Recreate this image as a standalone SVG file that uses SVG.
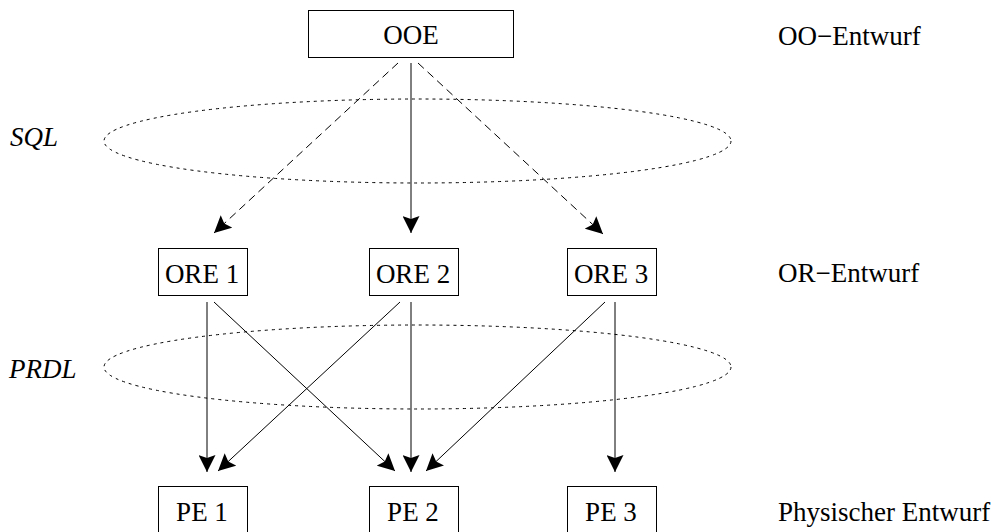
<svg xmlns="http://www.w3.org/2000/svg" width="996" height="532" viewBox="0 0 996 532">
  <style>
    .box { fill: #ffffff; stroke: #000000; stroke-width: 1; }
    .lbl { font-family: "Liberation Serif", "Times New Roman", serif; font-size: 27px; fill: #000000; }
    .mid { text-anchor: middle; }
    .lang { font-style: italic; }
    .edge { fill: none; stroke: #000000; stroke-width: 1; }
    .dash { stroke-dasharray: 8 5; }
    .zone { fill: none; stroke: #000000; stroke-width: 1; stroke-dasharray: 3 4; }
  </style>
  <defs>
    <marker id="head" markerUnits="userSpaceOnUse" markerWidth="18" markerHeight="17" refX="17" refY="8.5" orient="auto">
      <path d="M0,0 L17,8.5 L0,17 L3,8.5 z" fill="#000000"/>
    </marker>
  </defs>
  <rect width="996" height="532" fill="#ffffff"/>

  <!-- language zones -->
  <g id="zones">
    <ellipse class="zone" cx="417.5" cy="141" rx="313.5" ry="42"/>
    <ellipse class="zone" cx="417.5" cy="367" rx="313.5" ry="42"/>
    <text class="lbl lang" x="10" y="146">SQL</text>
    <text class="lbl lang" x="9" y="378">PRDL</text>
  </g>

  <!-- level captions -->
  <g id="levels">
    <text class="lbl" x="778" y="45">OO−Entwurf</text>
    <text class="lbl" x="778" y="282">OR−Entwurf</text>
    <text class="lbl" x="778" y="521">Physischer Entwurf</text>
  </g>

  <!-- connectors -->
  <g id="connectors">
    <line class="edge dash" x1="398" y1="63" x2="214" y2="233" marker-end="url(#head)"/>
    <line class="edge" x1="411" y1="63" x2="411" y2="233" marker-end="url(#head)"/>
    <line class="edge dash" x1="418" y1="63" x2="603" y2="234" marker-end="url(#head)"/>

    <line class="edge" x1="207" y1="302" x2="207" y2="472" marker-end="url(#head)"/>
    <line class="edge" x1="214" y1="302" x2="395" y2="471" marker-end="url(#head)"/>
    <line class="edge" x1="400" y1="302" x2="218" y2="471" marker-end="url(#head)"/>
    <line class="edge" x1="411" y1="302" x2="411" y2="472" marker-end="url(#head)"/>
    <line class="edge" x1="605" y1="302" x2="426" y2="471" marker-end="url(#head)"/>
    <line class="edge" x1="615" y1="302" x2="615" y2="472" marker-end="url(#head)"/>
  </g>

  <!-- nodes -->
  <g id="OOE">
    <rect class="box" x="308.5" y="10.5" width="205" height="47"/>
    <text class="lbl mid" x="411" y="44">OOE</text>
  </g>
  <g id="ORE1">
    <rect class="box" x="158.5" y="248.5" width="89" height="47"/>
    <text class="lbl mid" x="202" y="283">ORE 1</text>
  </g>
  <g id="ORE2">
    <rect class="box" x="369.5" y="248.5" width="89" height="47"/>
    <text class="lbl mid" x="413" y="283">ORE 2</text>
  </g>
  <g id="ORE3">
    <rect class="box" x="567.5" y="248.5" width="89" height="47"/>
    <text class="lbl mid" x="611" y="283">ORE 3</text>
  </g>
  <g id="PE1">
    <rect class="box" x="158.5" y="486.5" width="89" height="47"/>
    <text class="lbl mid" x="202" y="521">PE 1</text>
  </g>
  <g id="PE2">
    <rect class="box" x="369.5" y="486.5" width="89" height="47"/>
    <text class="lbl mid" x="413" y="521">PE 2</text>
  </g>
  <g id="PE3">
    <rect class="box" x="567.5" y="486.5" width="89" height="47"/>
    <text class="lbl mid" x="611" y="521">PE 3</text>
  </g>
</svg>
